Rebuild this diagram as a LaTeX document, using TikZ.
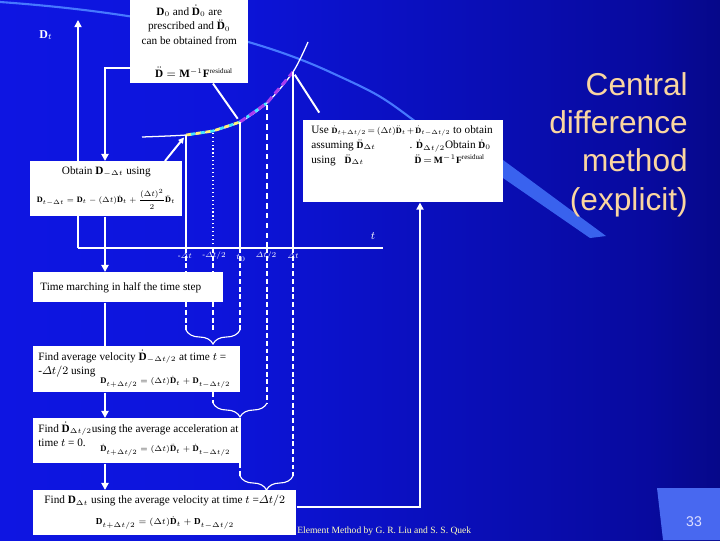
\documentclass[tikz,border=0pt]{standalone}
\usepackage{amsmath}
\usepackage{graphicx}
\usepackage{fontspec}
\setmainfont{Liberation Serif}
\setsansfont{Liberation Sans}
\usetikzlibrary{arrows.meta, positioning, calc, decorations.pathreplacing}
\DeclareMathSizes{8}{8}{5}{5}
\DeclareMathSizes{6.8}{6.8}{5}{5}
\DeclareMathSizes{6.5}{6.5}{5}{5}
\definecolor{slideblue}{RGB}{14,22,236}
\definecolor{slidenavy}{RGB}{0,0,40}
\definecolor{titletan}{RGB}{250,214,160}
\definecolor{wave}{RGB}{70,120,255}
\definecolor{pagebox}{RGB}{72,104,240}
\definecolor{footyellow}{RGB}{255,255,190}
\definecolor{markcyan}{RGB}{70,230,255}
\definecolor{markyellow}{RGB}{255,240,120}
\definecolor{markviolet}{RGB}{170,60,240}
\pgfdeclarehorizontalshading{slidebg}{100bp}{rgb(0bp)=(0.06,0.09,0.93); rgb(40bp)=(0.05,0.08,0.86); rgb(70bp)=(0.03,0.04,0.62); rgb(88bp)=(0.01,0.01,0.33); rgb(100bp)=(0,0,0.14)}
\newcommand{\vD}{\mathbf{D}}
\newcommand{\vDd}{\dot{\mathbf{D}}}
\newcommand{\vDdd}{\ddot{\mathbf{D}}}
\newcommand{\tightmath}{\medmuskip=2mu\relax\thickmuskip=3mu\relax}
\newcommand{\smalleq}[1]{{\fontsize{6.8}{8}\selectfont\tightmath$#1$}}

\begin{document}
\begin{tikzpicture}[x=0.025cm, y=-0.025cm,
    panel/.style={fill=white, inner sep=0pt, anchor=north west},
    boxsize/.style 2 args={minimum width=#1*0.025cm, minimum height=#2*0.025cm},
    words/.style={font=\fontsize{8}{10.2}\selectfont\tightmath,
                  inner sep=0pt, align=left},
    eqn/.style={font=\fontsize{6.5}{7.5}\selectfont, inner sep=0pt},
    ticklbl/.style={font=\fontsize{6.5}{8}\selectfont, text=white, inner sep=0pt},
    flow/.style={white, line width=1.4pt, -{Triangle[length=5pt,width=5pt]}},
    axisline/.style={white, line width=1.1pt},
    guide/.style={white, line width=0.8pt},
    dropline/.style={white, line width=0.8pt, dash pattern=on 3.5pt off 2pt},
    brc/.style={white, line width=0.8pt, decorate,
                decoration={brace, mirror, amplitude=0.35cm}},
    callout/.style={white, line width=1.4pt}
  ]
    \useasboundingbox (0,0) rectangle (720,540);
    % slide background
    \shade[shading=slidebg] (0,0) rectangle (720,540);
    \draw[wave, line width=1.5pt] (0,2) .. controls (140,12) and (250,35) .. (330,72)
      .. controls (380,95) .. (420,125);
    \fill[wave, opacity=0.8] (503,160) -- (606,236) -- (590,238) -- (503,178) -- cycle;
    \fill[pagebox] (657,488) -- (720,488) -- (720,540) -- (663,540) -- cycle;

    % axes and sample points
    \coordinate (O) at (78,248);
    \coordinate (fx) at (105,0);
    \coordinate (lx) at (420,0);
    \coordinate (mdt) at (186,135);
    \coordinate (mhalf) at (213,131);
    \coordinate (tzero) at (240,122);
    \coordinate (phalf) at (267,103);
    \coordinate (pdt) at (293,72);
    \coordinate (b1) at (0,330);
    \coordinate (b2) at (0,403);
    \coordinate (b3) at (0,476);
    \draw[axisline, -{Triangle[length=5pt,width=5pt]}] (O) -- (78,20);
    \draw[axisline] (O) -- (383,248);
    \node[font=\fontsize{8.5}{10}\selectfont, text=white] (dlbl) at (46,35) {$\mathbf{D}_t$};
    \node[ticklbl, font=\fontsize{8}{9}\selectfont] (tlbl) at (373,236) {$t$};

    \draw[white, line width=0.9pt] plot[smooth] coordinates
      {(142,137) (186,135) (213,131) (240,122) (267,103) (293,72) (308,42)};
    \draw[markyellow, line width=2pt, dash pattern=on 4pt off 3pt] (mdt) -- (mhalf) -- (tzero);
    \draw[markcyan, line width=2pt, dash pattern=on 3pt off 4pt, dash phase=3.5pt]
      (mdt) -- (mhalf) -- (tzero) -- (phalf);
    \draw[markviolet, line width=2.2pt, dash pattern=on 5pt off 3pt] (tzero) -- (phalf) -- (pdt);

    \draw[guide] (mdt |- O) -- (mdt);
    \draw[guide, dotted] (mhalf |- O) -- (mhalf);
    \draw[guide] (tzero |- O) -- (tzero);
    \draw[guide, dash pattern=on 4pt off 3pt] (phalf |- O) -- (phalf);
    \draw[guide] (pdt |- O) -- (pdt);

    \node[ticklbl] (lmdt) at (185,256) {\scalebox{0.9}{-$\varDelta t$}};
    \node[ticklbl] (lmhalf) at (214,256) {\scalebox{0.9}{-$\varDelta t/2$}};
    \node[ticklbl] (ltzero) at (241,258) {$t_0$};
    \node[ticklbl] (lphalf) at (266,256) {\scalebox{0.9}{$\varDelta t/2$}};
    \node[ticklbl] (lpdt) at (293,256) {\scalebox{0.9}{$\varDelta t$}};

    % drop lines and braces
    \draw[dropline] (mdt |- O) -- (mdt |- b1);
    \draw[dropline] (mhalf |- O) -- (mhalf |- b1);
    \draw[dropline] (mhalf |- 0,392) -- (mhalf |- b2);
    \draw[dropline] (tzero |- O) -- (tzero |- b1);
    \draw[dropline] (tzero |- 0,463) -- (tzero |- b3);
    \draw[dropline] (phalf |- O) -- (phalf |- b2);
    \draw[dropline] (pdt |- O) -- (pdt |- b3);
    \draw[brc] (mdt |- b1) -- (tzero |- b1);
    \draw[brc] (mhalf |- b2) -- (phalf |- b2);
    \draw[brc] (tzero |- b3) -- (pdt |- b3);

    % boxes
    \node[panel, boxsize={118}{83}] (topbox) at (130,0) {};
    \node[panel, boxsize={200}{82}] (usebox) at (303,120) {};
    \node[panel, boxsize={152}{55}] (obtainbox) at (30,161) {};
    \node[panel, boxsize={190}{30}] (marchbox) at (33,272) {};
    \node[panel, boxsize={207}{46}] (avgbox) at (33,346) {};
    \node[panel, boxsize={208}{45}] (accbox) at (33,418) {};
    \node[panel, boxsize={263}{45}] (dispbox) at (33,490) {};

    \node[words, align=center, anchor=north] (toptext) at ([shift={(0,5)}]topbox.north)
      {$\vD_0$ and $\vDd_0$ are\\prescribed and $\vDdd_0$\\can be obtained from};
    \node[words, font=\fontsize{8}{9}\selectfont] (topeq) at (194,72)
      {$\vDdd=\mathbf{M}^{-1}\mathbf{F}^{\text{residual}}$};

    \node[words, font=\fontsize{8}{10.8}\selectfont\tightmath, anchor=north west] (usetext)
      at ([shift={(8,5)}]usebox.north west)
      {Use \scalebox{0.86}{\smalleq{\vDd_{t+\Delta t/2}=(\Delta t)\vDdd_t+\vDd_{t-\Delta t/2}}} to obtain\\
       assuming \smalleq{\vDdd_{\Delta t}}\hspace{3em}. \smalleq{\vDd_{\Delta t/2}}Obtain \smalleq{\vDd_0}\\
       using\hspace{0.8em}\smalleq{\vDdd_{\Delta t}}\hspace{4.5em}\smalleq{\vDdd=\mathbf{M}^{-1}\mathbf{F}^{\text{residual}}}};

    \node[words, anchor=north] (obtaintext) at ([shift={(0,5)}]obtainbox.north)
      {Obtain $\vD_{-\Delta t}$ using};
    \node[eqn] (obtaineq) at (106,199)
      {\scalebox{0.9}{$\vD_{t-\Delta t}=\vD_t-(\Delta t)\vDd_t+\dfrac{(\Delta t)^2}{2}\vDdd_t$}};

    \node[words, anchor=west] (marchtext) at ([xshift=5]marchbox.west)
      {Time marching in half the time step};

    \node[words, anchor=north west] (avgtext) at ([shift={(5,4)}]avgbox.north west)
      {Find average velocity $\vDd_{-\Delta t/2}$ at time $t$ =\\-$\varDelta t/2$ using};
    \node[eqn, anchor=west] (avgeq) at (100,382)
      {\scalebox{0.94}{$\vD_{t+\Delta t/2}=(\Delta t)\vDd_t+\vD_{t-\Delta t/2}$}};

    \node[words, anchor=north west] (acctext) at ([shift={(5,4)}]accbox.north west)
      {Find $\vDd_{\Delta t/2}$using the average acceleration at\\time $t$ = 0.};
    \node[eqn, anchor=west] (acceq) at (100,450)
      {\scalebox{0.94}{$\vDd_{t+\Delta t/2}=(\Delta t)\vDdd_t+\vDd_{t-\Delta t/2}$}};

    \node[words, anchor=north] (disptext) at ([shift={(0,5)}]dispbox.north)
      {Find $\vD_{\Delta t}$ using the average velocity at time $t$ =$\varDelta t/2$};
    \node[eqn] (dispeq) at (165,523)
      {$\vD_{t+\Delta t/2}=(\Delta t)\vDd_t+\vD_{t-\Delta t/2}$};

    % connectors
    \draw[flow] ($(topbox.south west)+(0,-16)$) -| (obtainbox.north -| fx);
    \draw[flow] (obtainbox.south -| fx) -- (marchbox.north -| fx);
    \draw[white, line width=1.4pt] (marchbox.south -| fx) -- (avgbox.north -| fx);
    \draw[flow] (avgbox.south -| fx) -- (accbox.north -| fx);
    \draw[flow] (accbox.south -| fx) -- (dispbox.north -| fx);
    \draw[flow] ($(dispbox.north east)+(0,17)$) -| (usebox.south -| lx);

    \draw[callout, shorten >=0.1cm] ($(topbox.south west)!0.7!(topbox.south east)$) -- (tzero);
    \draw[callout, shorten <=0.22cm, shorten >=0.08cm] ($(usebox.north west)+(21,0)$) -- (pdt);
    \draw[callout, -{Triangle[length=4pt,width=4pt]}, shorten >=0.08cm]
      ($(obtainbox.north west)+(135,0)$) -- (mdt);

    % title and footer
    \node[font=\sffamily\fontsize{22.5}{27.3}\selectfont, text=titletan, align=right,
          anchor=north east, inner sep=0pt] (title) at (688,72)
      {Central\\difference\\method\\(explicit)};
    \node[font=\fontsize{6.8}{8}\selectfont, text=footyellow, anchor=base west, inner sep=0pt]
      (footer) at (297,533) {Element Method by G. R. Liu and S. S. Quek};
    \node[font=\sffamily\fontsize{10}{12}\selectfont, text=white!88!blue] (pagenum)
      at (694,522) {33};
\end{tikzpicture}
\end{document}
